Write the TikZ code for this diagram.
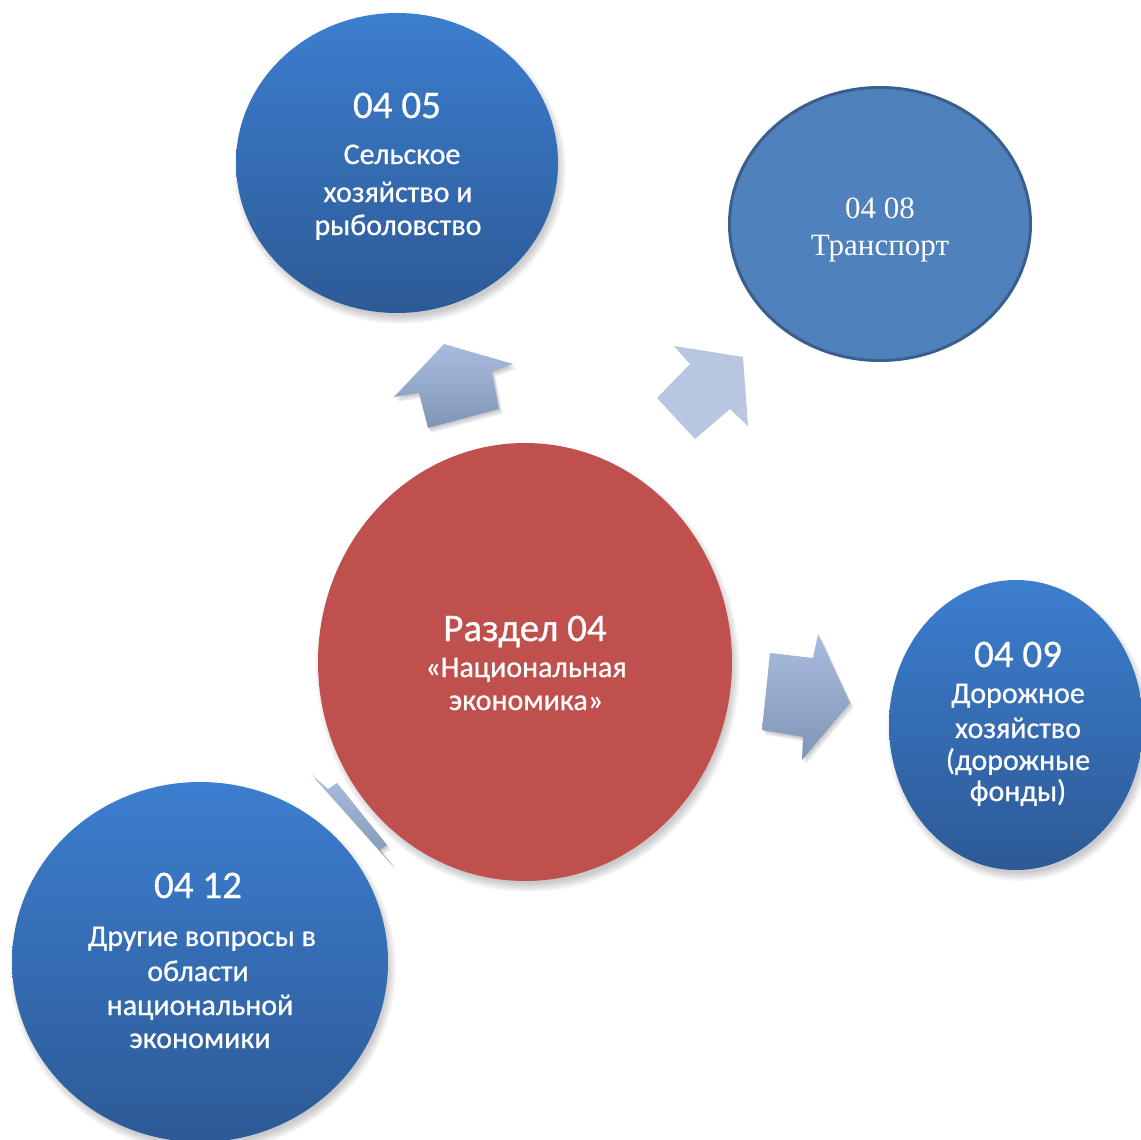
\documentclass[tikz,border=0pt]{standalone}
\usepackage{fontspec}
\setmainfont{Carlito}
\newfontfamily\heavyfont{Carlito}[FakeBold=0.7]
\newfontfamily\tnrfont{Liberation Serif}
\usetikzlibrary{shapes.geometric}
\definecolor{bluetop}{HTML}{3C7ECF}
\definecolor{bluebot}{HTML}{2D5A96}
\definecolor{redfill}{HTML}{C0504D}
\definecolor{flatblue}{HTML}{4F81BD}
\definecolor{flatborder}{HTML}{3A5F8D}
\definecolor{arrtop}{HTML}{A9BCDF}
\definecolor{arrbot}{HTML}{8095B6}
\definecolor{arrflat}{HTML}{B8C6E1}
\newcommand\softshade[4]{%
  \foreach \k in {0,...,5}{%
    \fill[black, opacity=0.035] (#1+3,#2+6) ellipse [x radius={#3pt+5pt-\k*1.6pt}, y radius={#4pt+5pt-\k*1.6pt}];
  }%
}
\newcommand\arrshade[1]{%
  \foreach \k in {1,2,3}{%
    \fill[black, opacity=0.07, shift={(\k*1.2pt,-\k*1.6pt)}] #1;
  }%
}
\tikzset{
  bluecirc/.style={ellipse, draw=none, inner sep=0pt, top color=bluetop, bottom color=bluebot},
  redcirc/.style={ellipse, draw=none, inner sep=0pt, fill=redfill},
  flatcirc/.style={ellipse, inner sep=0pt, fill=flatblue, draw=flatborder, line width=3pt},
  numtxt/.style={text=white, anchor=base, inner sep=0pt, font=\heavyfont\fontsize{39}{41}\selectfont},
  bodytxt/.style={text=white, anchor=base, inner sep=0pt, font=\heavyfont\fontsize{30}{32}\selectfont},
  serftxt/.style={text=white, anchor=base, inner sep=0pt, font=\tnrfont\fontsize{31}{34}\selectfont},
  shadedarrow/.style={top color=arrtop, bottom color=arrbot, draw=none},
  flatarrow/.style={fill=arrflat, draw=none},
}
\begin{document}
\begin{tikzpicture}[x=1pt,y=-1pt]
\useasboundingbox (0,0) rectangle (1141,1140);
\clip (0,0) rectangle (1141,1140);
\fill[white] (0,0) rectangle (1141,1140);

% ---- block arrows ----
% upper-left arrow (to 04 05)
\arrshade{(444,344) -- (513,364) -- (492,372) -- (499,409) -- (428,428) -- (419,393) -- (394,397) -- cycle}
\path[shadedarrow] (444,344) -- (513,364) -- (492,372) -- (499,409) -- (428,428) -- (419,393) -- (394,397) -- cycle;
% upper-right arrow (to 04 08)
\path[flatarrow] (674,346) -- (743,357) -- (748,426) -- (730,409) -- (695,439) -- (657,398) -- (690,364) -- cycle;
% right arrow (to 04 09)
\arrshade{(770,653) -- (813,658) -- (818,634) -- (850,703) -- (802,760) -- (803,737) -- (762,730) -- cycle}
\path[shadedarrow] (770,653) -- (813,658) -- (818,634) -- (850,703) -- (802,760) -- (803,737) -- (762,730) -- cycle;
% lower-left arrow (to 04 12)
\arrshade{(312,775) -- (328,789) -- (337,783) -- (387,845) -- (380,850) -- (394,867) -- cycle}
\path[shadedarrow] (312,775) -- (328,789) -- (337,783) -- (387,845) -- (380,850) -- (394,867) -- cycle;

% ---- circles ----
\softshade{397}{163}{161}{150}
\node[bluecirc, minimum width=322pt, minimum height=300pt] (c0405) at (397,163) {};
\node[flatcirc, minimum width=301pt, minimum height=273pt] (c0408) at (880,224) {};
\softshade{525}{662}{207}{219}
\node[redcirc, minimum width=414pt, minimum height=438pt] (cmain) at (525,662) {};
\softshade{1016}{725}{127}{145}
\node[bluecirc, minimum width=254pt, minimum height=290pt] (c0409) at (1016,725) {};
\softshade{200}{962}{188}{180}
\node[bluecirc, minimum width=376pt, minimum height=360pt] (c0412) at (200,962) {};

% ---- texts ----
\node[numtxt] (n0405) at (397,118) {04 05};
\node[bodytxt] (a0405) at (402,164) {Сельское};
\node[bodytxt] (b0405) at (398,202) {хозяйство и};
\node[bodytxt] (d0405) at (398,235) {рыболовство};

\node[serftxt] (n0408) at (880,218) {04 08};
\node[serftxt] (a0408) at (880,255) {Транспорт};

\node[numtxt] (nmain) at (525,641) {Раздел 04};
\node[bodytxt] (amain) at (526,677) {«Национальная};
\node[bodytxt] (bmain) at (526,710) {экономика»};

\node[numtxt] (n0409) at (1018,667) {04 09};
\node[bodytxt] (a0409) at (1018,703) {Дорожное};
\node[bodytxt] (b0409) at (1018,738) {хозяйство};
\node[bodytxt] (c0409t) at (1018,770) {(дорожные};
\node[bodytxt] (d0409) at (1018,801) {фонды)};

\node[numtxt] (n0412) at (198,898) {04 12};
\node[bodytxt] (a0412) at (202,946) {Другие вопросы в};
\node[bodytxt] (b0412) at (198,981) {области};
\node[bodytxt] (c0412t) at (200,1015) {национальной};
\node[bodytxt] (d0412) at (200,1048) {экономики};
\end{tikzpicture}
\end{document}
